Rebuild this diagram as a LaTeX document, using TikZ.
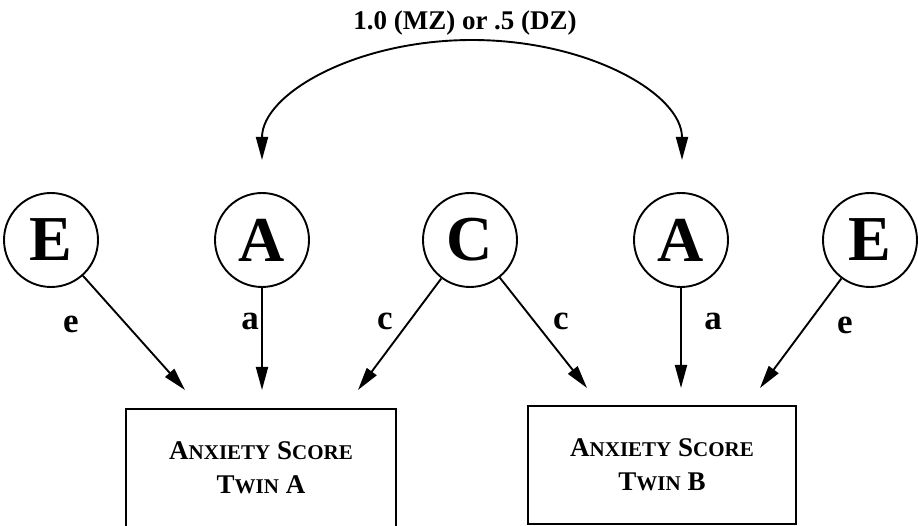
\documentclass[tikz,border=0pt]{standalone}
\usepackage{fontspec}
\setmainfont{Liberation Serif}
\usetikzlibrary{arrows.meta}
% lower-case part of the small-capital labels
\newcommand\sclow[1]{{\fontsize{21}{24}\selectfont #1}}
\begin{document}
\begin{tikzpicture}[x=1pt,y=-1pt,
  latent/.style={circle,draw,line width=1.9pt,minimum size=94pt,inner sep=0pt,
    font=\fontsize{64}{64}\selectfont\bfseries},
  observed/.style={draw,line width=1.9pt,minimum height=118pt,align=center,
    inner sep=0pt,font=\fontsize{27}{34}\selectfont\bfseries},
  effect/.style={line width=1.9pt,-{Triangle[length=23pt,width=12pt]}},
  coef/.style={font=\fontsize{35}{35}\selectfont\bfseries,inner sep=0pt}]
\useasboundingbox (0,0) rectangle (918,526);

% latent factors
\node[latent] (E1) at (51,240)  {E};
\node[latent] (A1) at (262,240) {A};
\node[latent] (C)  at (470,240) {C};
\node[latent] (A2) at (681,240) {A};
\node[latent] (E2) at (870,240) {E};

% observed scores
\node[observed,minimum width=270pt] (TA) at (261,468)
  {A\sclow{NXIETY} S\sclow{CORE}\\T\sclow{WIN} A};
\node[observed,minimum width=268pt] (TB) at (662,465)
  {A\sclow{NXIETY} S\sclow{CORE}\\T\sclow{WIN} B};

% arrow ends above the boxes
\coordinate (eA) at (185,390);
\coordinate (aA) at (262,390);
\coordinate (cA) at (358,390);
\coordinate (cB) at (587,388);
\coordinate (aB) at (681,388);
\coordinate (eB) at (760,388);

\draw[effect] (E1) -- (eA);
\draw[effect] (A1) -- (aA);
\draw[effect] (C) -- (cA);
\draw[effect] (C) -- (cB);
\draw[effect] (A2) -- (aB);
\draw[effect] (E2) -- (eB);

% path coefficients
\node[coef] (le) at (71,324)  {e};
\node[coef] (la) at (250,321) {a};
\node[coef] (lc) at (385,321) {c};
\node[coef] (rc) at (561,321) {c};
\node[coef] (ra) at (713,321) {a};
\node[coef] (re) at (845,325) {e};

% genetic correlation between the twins
\coordinate (gA) at (262,160);
\coordinate (gB) at (682,160);
\draw[line width=1.9pt,{Triangle[length=23pt,width=12pt]}-{Triangle[length=23pt,width=12pt]}]
  (gA) arc[start angle=180,end angle=360,x radius=210,y radius=120];
\node[font=\fontsize{27}{27}\selectfont\bfseries] (rg) at (465,23) {1.0 (MZ) or .5 (DZ)};
\end{tikzpicture}
\end{document}
